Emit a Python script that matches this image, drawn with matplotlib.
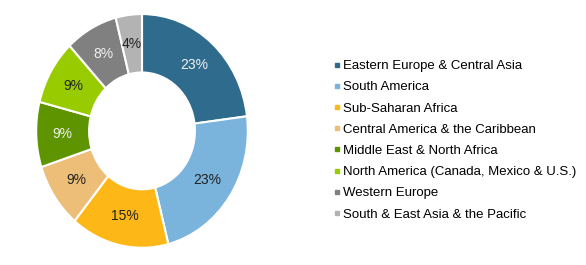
import matplotlib.pyplot as plt
from matplotlib.lines import Line2D

plt.rcParams['font.family'] = ['Liberation Sans', 'DejaVu Sans']

# Regions and their shares (%)
regions = ["Eastern Europe & Central Asia", "South America", "Sub-Saharan Africa",
           "Central America & the Caribbean", "Middle East & North Africa",
           "North America (Canada, Mexico & U.S.)", "Western Europe",
           "South & East Asia & the Pacific"]
shares = [23, 23, 15, 9, 9, 9, 8, 4]

colors = ["#2E6B8C", "#7AB4DC", "#FDB818", "#EDBE78", "#5E9400", "#99CC00", "#808080", "#B3B3B3"]
label_colors = ["#F0F0F0", "#222222", "#222222", "#222222", "#F0F0F0", "#222222", "#F0F0F0", "#222222"]

fig = plt.figure(figsize=(5.86, 2.65), dpi=100)
ax = fig.add_axes([15 / 586, 0.021, 254 / 586, 0.97])

wedges, texts, autotexts = ax.pie(shares, colors=colors, startangle=90, counterclock=False,
                                  autopct='%d%%', pctdistance=0.75,
                                  wedgeprops=dict(width=0.5, edgecolor='white', linewidth=1.5),
                                  textprops=dict(fontsize=10))
for t, c in zip(autotexts, label_colors):
    t.set_color(c)

ax.set_aspect('auto')
ax.set_xlim(-1.2, 1.2)
ax.set_ylim(-1.1, 1.1)

handles = [Line2D([], [], marker='s', linestyle='none', markersize=3,
                  markerfacecolor=c, markeredgecolor=c) for c in colors]
fig.legend(handles, regions, loc='upper left', bbox_to_anchor=(333 / 586, 1 - 60 / 265),
           frameon=False, fontsize=9.5, handlelength=0.6, handletextpad=0.18,
           labelspacing=0.68, borderaxespad=0, borderpad=0)

fig.savefig('out.png', dpi=100)
